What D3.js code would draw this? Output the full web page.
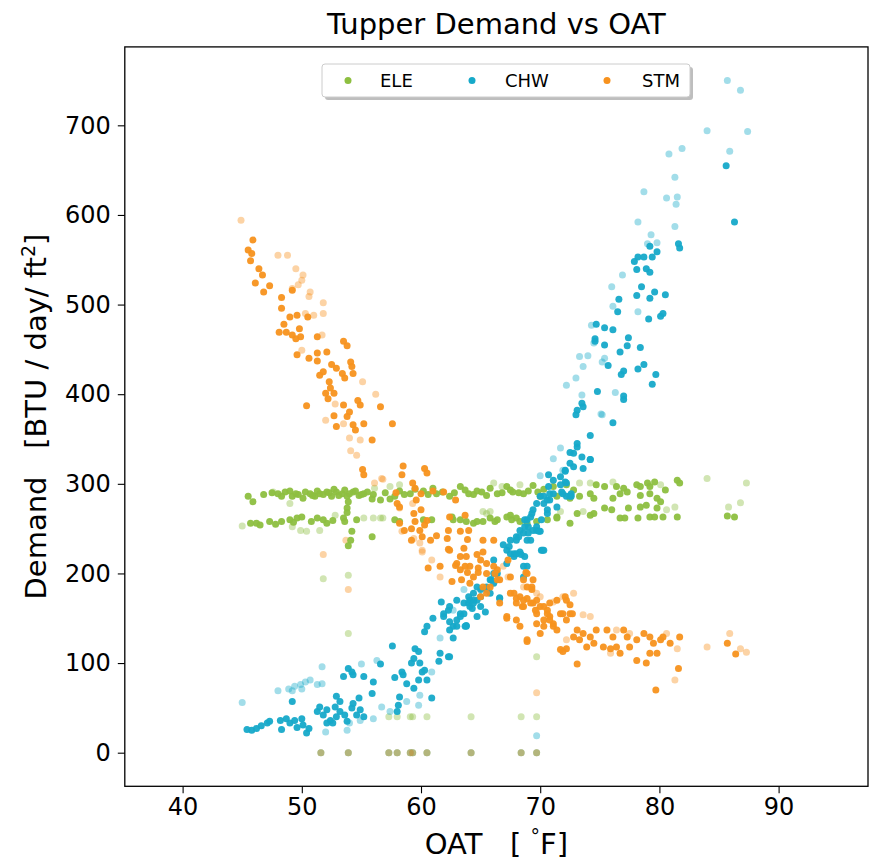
<!DOCTYPE html>
<html>
<head>
<meta charset="utf-8">
<script src="https://cdn.jsdelivr.net/npm/d3@7"></script>
<style>
  html, body { margin: 0; padding: 0; background: #fff; }
  svg { display: block; }
  text { font-family: "DejaVu Sans", sans-serif; fill: #000; white-space: pre; }
</style>
</head>
<body>
<svg id="chart" width="871" height="862"></svg>
<script>
// ---------------- DATA ----------------
const seriesNames = ["ELE", "CHW", "STM"];
const seriesColors = ["#8dbf40", "#16a9c9", "#f7921e"];
const xTicks = [40, 50, 60, 70, 80, 90];
const yTicks = [0, 100, 200, 300, 400, 500, 600, 700];

// days with zero demand for all services (OAT, deg F)
const zeroDaysOAT = [51.6, 53.9, 57.3, 58.0, 59.1, 59.3, 60.5, 64.2, 68.4, 69.7];
// ELE days at ~40 demand
const eleLowDaysOAT = [57.3, 58.0, 59.1, 59.3, 60.5, 64.2, 68.4, 69.7];

// ELE [OAT, demand]
const eleSolid = [
 [45.5,286],[45.9,280],[46.8,288],[48.0,289],[48.6,291],[49.2,286],[49.7,288],[50.1,284],[50.7,289],[51.1,286],
 [51.5,289],[52.1,291],[52.5,286],[52.9,291],[53.4,289],[53.8,286],[54.3,291],[54.8,287],[55.2,289],[55.9,283],
 [56.6,282],[57.4,283],[58.2,292],[59.1,289],[60.2,292],[61.3,289],[62.4,286],[63.3,297],[64.0,289],[64.7,292],
 [65.5,287],[66.4,289],[67.2,297],[67.7,291],[68.6,289],[69.4,298],[70.3,294],
 [47.5,290],[48.3,286],[49.0,292],[49.5,289],[50.3,291],[50.9,287],[51.3,292],[51.8,288],[52.3,290],[52.7,294],
 [53.1,287],[53.6,293],[54.0,289],[54.5,292],[55.0,288],[55.5,291],[56.0,288],[57.0,290],[57.8,286],[58.6,288],
 [59.5,294],[60.6,288],[61.0,295],[61.8,291],[62.8,290],[63.7,293],[64.4,288],[65.1,291],[65.8,295],[66.8,290],
 [67.5,293],[68.2,290],[69.0,292],[69.8,291],
 [71.1,297],[72.2,299],[72.8,293],[74.7,299],[75.4,297],[76.4,297],[77.0,295],[77.3,291],[78.1,299],[78.4,297],
 [79.0,301],[79.2,297],[79.6,302],[80.5,293],[81.5,304],[81.7,301],
 [70.0,286],[71.4,286],[72.5,284],[73.3,286],[74.2,289],[74.5,284],[76.1,284],[76.7,289],[78.4,287],[79.2,289],
 [79.8,284],[80.1,280],
 [45.7,256],[46.2,256],[46.5,254],[47.3,258],[47.8,255],[48.3,258],[49.0,260],[49.3,257],[49.6,262],[50.0,263],
 [50.8,258],[51.3,262],[51.8,260],[52.1,256],[52.6,259],[53.5,262],[53.8,273],[53.9,280],[53.8,268],[53.6,258],
 [54.2,247],[54.1,237],[53.9,231],[54.6,260],[55.9,241],
 [57.8,260],[58.2,258],[60.2,260],[60.9,260],[62.6,263],[62.7,260],[63.3,260],[63.8,258],[64.4,256],[64.7,258],
 [65.2,258],[65.8,262],[66.2,258],[66.4,260],[67.2,263],[67.5,265],[67.6,260],[68.0,262],[68.3,258],[68.9,256],
 [69.7,258],[70.6,260],[71.4,262],[71.4,263],[72.5,256],[73.1,267],[74.2,265],[74.5,267],[75.4,273],[76.0,271],
 [76.7,262],[77.1,262],[77.4,273],[78.2,262],[78.4,274],[78.9,276],[79.2,263],[79.6,263],[79.8,273],[80.3,263],
 [81.5,263],[85.7,264],[86.3,263]
];
const eleFaint = [
 [47.6,291],[49.0,278],[56.1,295],[57.4,297],[58.2,299],[66.1,301],[66.8,297],[68.3,299],
 [45.0,253],[49.2,252],[49.9,248],[50.4,247],[51.5,248],[52.8,265],[55.2,262],[56.0,262],[56.8,262],[56.6,262],
 [65.5,267],[65.2,269],[65.8,269],
 [73.3,301],[74.2,301],[76.1,302],[80.1,299],[84.0,306],[87.3,301],[80.6,271],[81.3,274],[85.8,274],[86.8,279],
 [73.6,269],[71.7,269],
 [53.9,198],[53.9,133],[51.8,194],[69.7,107]
];

// CHW [OAT, demand]
const chwSolid = [
 [45.4,26],[45.8,25],[46.2,27],[46.6,30],[47.1,33],[47.3,35],[48.2,36],[48.3,26],[48.7,38],[49.0,33],
 [49.4,36],[49.6,28],[50.0,38],[50.1,31],[50.4,22],[50.6,27],[49.2,57],
 [51.3,46],[51.5,51],[51.8,42],[52.1,48],[52.4,36],[52.8,51],[52.9,40],[53.2,57],[53.2,46],[53.6,42],
 [53.8,35],[54.2,50],[54.3,55],[54.6,42],[54.8,61],[54.9,48],[55.2,40],[52.9,63],[52.6,33],[52.1,33],
 [53.5,85],[53.9,94],[54.2,90],[54.3,87],[55.2,85],[56.0,79],[55.9,66],[57.6,119],[56.6,99],
 [57.8,84],[58.4,90],[58.5,87],[58.8,77],[59.4,72],[58.2,62],[58.1,53],[58.0,46],[59.2,100],[59.4,105],
 [59.5,116],[59.8,113],[59.9,100],[60.1,90],[60.5,81],[60.3,92],[60.9,61],[61.5,102],[61.6,111],[62.3,107],
 [59.8,81],
 [60.3,135],[60.5,141],[61.0,150],[61.9,152],[62.3,159],[62.7,141],[63.0,148],[63.7,141],
 [61.7,168],[62.4,163],[63.3,155],[63.6,167],[64.0,174],[64.4,178],[65.0,182],[64.1,163],[64.7,170],[65.5,182],
 [65.8,193],[66.6,173],[66.1,189],
 [66.9,232],[67.2,226],[67.8,219],[68.3,224],[68.7,219],[67.5,237],[68.0,241],[68.6,245],[68.7,260],[69.0,252],
 [69.7,248],[70.1,226],[69.2,237],[67.2,211],
 [61.9,155],[62.4,146],[63.0,141],[63.6,155],[64.0,167],[64.4,170],[65.0,174],[64.3,161],[65.0,163],[65.5,185],
 [65.9,193],[66.4,200],[65.8,178],[63.8,142],[63.3,152],[64.7,152],[65.4,157],
 [67.4,230],[67.8,222],[68.3,248],[68.9,260],[69.3,267],[69.7,278],[70.0,286],[70.6,282],[70.7,297],[71.1,304],
 [71.7,308],[72.1,315],[72.5,323],[72.8,334],[73.1,341],[72.2,301],[72.6,289],[71.8,291],[70.6,271],[68.9,208],
 [68.6,196],
 [73.1,382],[73.5,390],[73.0,377],[73.6,386],[76.1,368],[77.0,394],[74.2,354],[73.1,345],[72.5,335],[73.5,330],
 [74.2,327],[73.6,317],[72.1,314],
 [70.7,310],[72.1,302],[71.1,289],[70.3,286],[70.8,282],[71.4,274],[72.2,286],[72.6,286],[69.4,271],[70.6,267],
 [69.2,263],[70.1,260],[68.7,252],[69.7,252],[69.0,245],[68.2,241],[68.0,237],[69.4,248],[68.9,237],[69.9,247],
 [67.5,222],[68.0,222],[68.4,221],[70.2,226],[66.1,215],[68.6,208],
 [62.4,137],[62.7,128],[63.8,141],[62.4,107],[66.1,200],[66.6,172],[64.7,185],[64.1,170],[63.0,170],[64.4,167],
 [85.6,655],[86.3,592],
 [81.6,568],[81.7,563],[79.2,565],[79.8,559],[79.4,553],[78.2,553],[77.9,548],[78.7,553],[78.1,539],[78.9,540],
 [79.2,536],[78.5,520],[76.6,506],[78.1,510],[79.2,507],[79.6,514],[80.5,511],[76.5,492],[79.1,484],[80.1,487],
 [80.3,490],[74.7,478],[75.4,474],[76.1,472],[77.4,463],[77.3,454],[78.4,452],[76.7,447],[75.4,455],[74.6,462],
 [74.6,459],[75.7,432],[78.7,433],[78.2,428],[79.7,422],[79.4,411],[76.8,422],[77.0,426],[74.8,403],[77.0,398],
 [70.8,289],[71.7,299],[71.9,289],[72.5,286],[72.8,319],[74.2,327],[70.3,278],[70.0,247],[70.3,226]
];
const chwFaint = [
 [45.0,56],[48.0,69],[48.9,71],[49.4,74],[49.9,76],[50.3,79],[50.7,81],[51.3,76],[51.7,77],[50.0,71],
 [49.2,69],[51.7,96],[52.0,23],[53.8,25],[54.0,33],[54.9,36],[56.0,38],[56.7,51],[56.3,103],[57.4,46],
 [55.0,99],[59.9,64],[59.8,53],[58.8,57],[60.9,90],[69.7,19],[61.6,128],[62.7,159],[63.6,182],
 [71.7,340],[71.1,328],[70.0,309],[75.2,377],[71.9,315],
 [86.8,739],[85.7,750],[84.0,694],[87.4,693],[85.9,671],
 [80.8,668],[81.9,674],[81.3,642],[78.7,626],[80.6,619],[81.5,620],[81.4,612],[78.2,592],[81.3,587],[79.3,578],
 [79.0,568],[79.8,569],
 [76.9,533],[76.0,520],[76.1,498],[78.2,492],[74.3,477],[74.5,457],[73.3,442],[74.0,443],[73.6,431],[75.4,440],
 [75.2,436],[72.2,410],[73.0,418],[76.3,402],[73.5,399],[75.1,378]
];

// STM [OAT, demand]
const stmSolid = [
 [45.9,572],[45.5,561],[45.8,557],[45.7,549],[46.4,540],[46.7,533],[46.1,524],[47.3,521],[46.8,514],[48.3,508],
 [49.2,516],[48.3,496],[49.0,486],[49.6,488],[50.5,486],[48.5,478],[48.1,469],[48.7,469],[49.2,466],[49.8,473],
 [49.9,464],[49.5,462],[51.3,464],[53.5,459],[53.8,454],[49.6,444],[50.6,440],[51.3,446],[51.3,437],[52.1,447],
 [52.5,433],[52.9,429],[51.5,421],[51.8,425],[53.4,423],[53.6,418],[54.1,436],[54.2,431],[54.3,423],[52.3,414],
 [52.4,407],[52.0,401],[52.7,401],[52.2,395],[50.4,387],[53.5,388],[54.7,393],[54.9,388],[56.6,386],[54.0,380],
 [53.8,375],[52.7,376],[52.9,364],[54.3,366],[54.5,360],[55.2,367],[57.6,367],[55.9,349],[55.1,316],[55.2,310],
 [58.5,320],[58.4,310],[60.3,317],[60.5,312],
 [59.3,301],[59.5,295],[57.9,290],[60.0,289],[61.0,292],[59.6,282],[58.0,278],[58.2,274],[59.4,267],[60.0,271],
 [59.5,258],[60.5,259],[60.3,254],[61.9,291],[62.9,282],[63.7,265],[62.4,263],[58.2,256],[58.6,248],[59.2,250],
 [59.9,248],[59.2,237],[60.1,241],[62.3,248],[62.2,239],[61.3,242],[60.8,237],[63.3,247],[64.0,248],[63.9,238],
 [63.6,228],[62.4,226],[65.2,237],[66.1,237],[62.3,227],[63.3,219],[63.8,219],[64.7,221],[65.0,215],[65.2,224],
 [60.6,206],[61.6,208],[62.9,209],[63.3,204],[64.1,208],[64.8,206],[65.5,200],[66.4,204],
 [62.6,191],[63.0,211],[63.7,208],[63.9,201],[63.4,193],[64.1,189],[64.4,196],[64.8,201],[65.5,211],[66.1,208],
 [66.2,200],[65.2,185],[65.8,185],[66.4,193],[65.0,174],[65.5,178],[68.8,201],[68.6,193],[69.3,185],[67.8,178],
 [68.3,174],[68.9,172],[68.0,167],[68.6,163],[69.4,167],[70.0,163],[70.6,159],[69.7,155],[70.3,148],[70.8,152],
 [71.1,144],[71.7,155],[72.2,148],[72.7,155],[72.1,174],[67.2,150],[68.0,148],[68.9,124],[71.7,115],[72.2,116],
 [72.8,129],
 [67.3,215],[66.6,193],[67.5,196],[68.9,200],[69.4,193],[68.9,185],[69.3,182],[67.5,178],[68.0,172],[68.6,170],
 [68.5,163],[69.2,167],[69.7,170],[69.6,159],[70.3,163],[70.6,155],[70.8,167],[71.4,170],[72.2,170],[72.5,165],
 [71.9,155],[70.8,148],[70.3,141],[71.1,141],[71.4,137],[69.7,144],[70.0,133],[68.9,126],[68.3,141],[67.2,152],
 [66.6,167],[72.5,155],[73.1,137],[73.6,133],[73.3,126],[74.2,129],[74.7,137],[75.6,137],[76.1,129],[77.0,137],
 [77.3,129],[76.4,118],[77.5,118],[78.1,126],[78.7,133],[79.2,129],[79.5,122],[80.1,126],[80.3,129],[79.2,111],
 [78.1,103],[78.9,100],[79.8,111],[80.9,122],[81.7,129],[71.9,113],[73.1,99],[73.9,118],[74.5,122],[75.3,118],
 [75.9,116],[76.7,111],[81.6,94],[79.7,70],[85.7,122],[86.4,110]
];
const stmFaint = [
 [44.9,594],[48.0,555],[48.8,555],[49.5,540],[50.1,533],[50.0,527],[49.7,522],[49.2,518],[50.7,514],[50.6,509],
 [51.8,502],[51.8,490],[50.3,490],[51.0,488],[51.7,466],[50.0,449],[55.1,414],[56.2,400],[52.8,389],[52.0,371],
 [53.5,367],[54.0,351],[54.9,349],[54.1,337],[54.6,332],[56.7,306],[56.1,301],[56.8,305],[58.2,273],[59.3,278],
 [58.4,247],[59.4,239],[59.9,234],[60.1,226],[60.9,215],[60.1,224],[51.8,221],[53.7,237],[61.6,196],[66.9,208],
 [67.3,196],[70.0,174],[71.1,168],[69.7,159],[71.9,174],[72.8,178],[73.6,154],[69.7,178],[68.6,185],[81.5,116],
 [84.0,118],[85.9,133],[87.3,112],[86.8,116],[81.3,81],[69.7,67],[72.2,126],[75.9,111],[80.6,133],[77.5,133],
 [74.2,152],[76.4,137],[53.9,182]
];

// ---------------- CHART ----------------
const svg = d3.select("#chart");
const x = d3.scaleLinear().domain([35.15, 97.5]).range([124.8, 868]);
const y = d3.scaleLinear().domain([-37.5, 787.5]).range([786.3, 46.9]);

const R = 3.5;
const faintOpacity = 0.4;
const solidOpacity = 0.95;

function drawPoints(data, color, opacity) {
  svg.append("g").selectAll("circle").data(data).join("circle")
    .attr("cx", d => x(d[0])).attr("cy", d => y(d[1])).attr("r", R)
    .attr("fill", color).attr("fill-opacity", opacity);
}

// faint layer (incl. zero / low rows)
const zeroPts = zeroDaysOAT.map(t => [t, 0]);
const eleLowPts = eleLowDaysOAT.map(t => [t, 40]);
drawPoints(eleFaint.concat(zeroPts, eleLowPts), seriesColors[0], faintOpacity);
drawPoints(chwFaint.concat(zeroPts), seriesColors[1], faintOpacity);
drawPoints(stmFaint.concat(zeroPts), seriesColors[2], faintOpacity);
// solid layer
drawPoints(eleSolid, seriesColors[0], solidOpacity);
drawPoints(chwSolid, seriesColors[1], solidOpacity);
drawPoints(stmSolid, seriesColors[2], solidOpacity);

// axes
const xAxis = d3.axisBottom(x).tickValues(xTicks).tickSize(7).tickPadding(5).tickSizeOuter(0);
const yAxis = d3.axisLeft(y).tickValues(yTicks).tickSize(7).tickPadding(7).tickSizeOuter(0);
const gx = svg.append("g").attr("transform", `translate(0,${y.range()[0]})`).call(xAxis);
const gy = svg.append("g").attr("transform", `translate(${x.range()[0]},0)`).call(yAxis);
[gx, gy].forEach(g => {
  g.select(".domain").remove();
  g.selectAll(".tick line").attr("stroke", "#000").attr("stroke-width", 1.1);
  g.selectAll(".tick text").attr("font-family", "DejaVu Sans").attr("font-size", 24).attr("fill", "#000");
});

// frame
svg.append("rect")
  .attr("x", x.range()[0]).attr("y", y.range()[1])
  .attr("width", x.range()[1] - x.range()[0]).attr("height", y.range()[0] - y.range()[1])
  .attr("fill", "none").attr("stroke", "#000").attr("stroke-width", 1.3);

// title
const cx = (x.range()[0] + x.range()[1]) / 2;
svg.append("text").attr("x", cx).attr("y", 34).attr("text-anchor", "middle")
  .attr("font-size", 29).text("Tupper Demand vs OAT");

// x label
const xl = svg.append("text").attr("x", cx).attr("y", 854).attr("text-anchor", "middle").attr("font-size", 29);
xl.append("tspan").text("OAT   [ ");
xl.append("tspan").attr("font-size", 19).attr("dy", -11).text("°");
xl.append("tspan").attr("dy", 11).text("F]");

// y label
const cy = (y.range()[0] + y.range()[1]) / 2;
const yl = svg.append("text").attr("transform", `translate(46,${cy}) rotate(-90)`)
  .attr("text-anchor", "middle").attr("font-size", 29);
yl.append("tspan").text("Demand   [BTU / day/ ft");
yl.append("tspan").attr("font-size", 19).attr("dy", -11).text("2");
yl.append("tspan").attr("dy", 11).text("]");

// legend
const lg = svg.append("g");
lg.append("rect").attr("x", 325).attr("y", 67).attr("width", 368).attr("height", 33).attr("rx", 3)
  .attr("fill", "#888").attr("fill-opacity", 0.55);
lg.append("rect").attr("x", 322).attr("y", 64).attr("width", 368).attr("height", 33).attr("rx", 3)
  .attr("fill", "#fff").attr("stroke", "#cccccc").attr("stroke-width", 1);
const legendMarkerX = [348, 472, 607];
const legendTextX = [380, 505, 642];
seriesNames.forEach((name, i) => {
  lg.append("circle").attr("cx", legendMarkerX[i]).attr("cy", 80.5).attr("r", R).attr("fill", seriesColors[i]);
  lg.append("text").attr("x", legendTextX[i]).attr("y", 87).attr("font-size", 18).text(name);
});
</script>
</body>
</html>
